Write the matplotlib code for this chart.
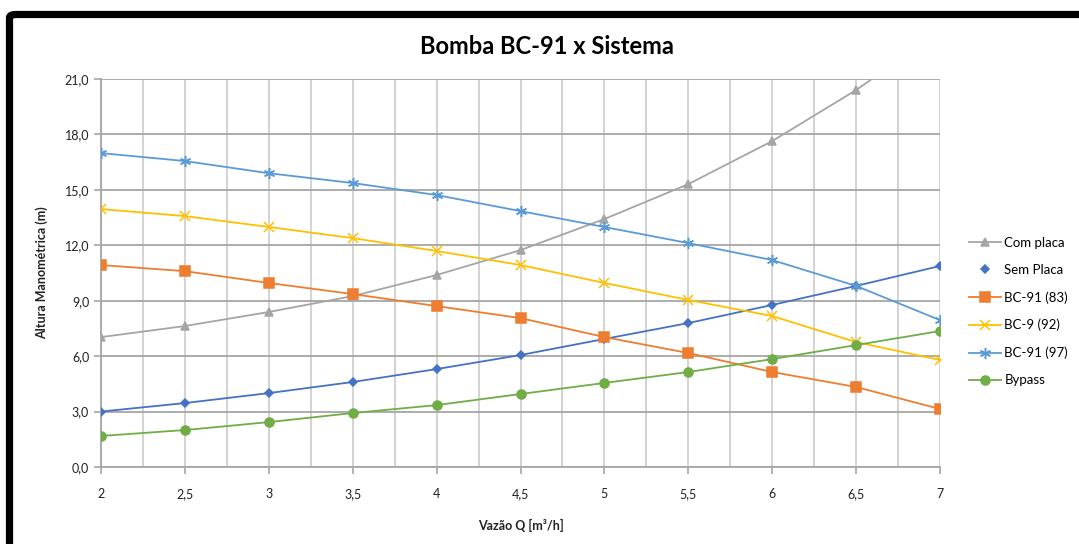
import matplotlib
matplotlib.use("Agg")
import matplotlib.pyplot as plt
from matplotlib.lines import Line2D
from matplotlib.patches import FancyBboxPatch
from matplotlib.ticker import MultipleLocator, FuncFormatter

# dados
vazao = [2, 2.5, 3, 3.5, 4, 4.5, 5, 5.5, 6, 6.5, 7]
com_placa = [7.03, 7.63, 8.39, 9.25, 10.39, 11.74, 13.42, 15.31, 17.64, 20.4, 23.6]
sem_placa = [3.0, 3.46, 4.0, 4.6, 5.3, 6.06, 6.93, 7.79, 8.77, 9.8, 10.88]
bc91_83 = [10.93, 10.6, 9.96, 9.36, 8.71, 8.06, 7.03, 6.17, 5.14, 4.33, 3.14]
bc9_92 = [13.96, 13.58, 12.99, 12.39, 11.69, 10.93, 9.96, 9.04, 8.17, 6.76, 5.79]
bc91_97 = [16.99, 16.56, 15.9, 15.37, 14.72, 13.85, 12.99, 12.12, 11.2, 9.8, 7.95]
bypass = [1.68, 2.0, 2.43, 2.92, 3.35, 3.95, 4.55, 5.14, 5.84, 6.6, 7.36]

plt.rcParams['font.family'] = ['Lato', 'DejaVu Sans']

fig = plt.figure(figsize=(10.79, 5.44), dpi=100)
W, H = 1079, 544
ax = fig.add_axes([101 / W, 1 - 467 / H, (940 - 101) / W, (467 - 79) / H])

# moldura preta (screenshot)
borda = FancyBboxPatch((9.5 / W, -0.2), 1.3, 1 - 14.5 / H + 0.2,
                       boxstyle="round,pad=0,rounding_size=0.006",
                       transform=fig.transFigure, fill=False,
                       edgecolor='black', linewidth=5.2)
fig.patches.append(borda)

series = [
    ("Com placa", com_placa, '#A5A5A5', '^', 6),
    ("Sem Placa", sem_placa, '#4472C4', 'D', 4.5),
    ("BC-91 (83)", bc91_83, '#ED7D31', 's', 6.5),
    ("BC-9 (92)", bc9_92, '#FFC000', 'x', 6.5),
    ("BC-91 (97)", bc91_97, '#5B9BD5', (6, 2, 0), 8),
    ("Bypass", bypass, '#70AD47', 'o', 6.5),
]

for nome, vals, cor, mk, ms in series:
    ax.plot(vazao, vals, color=cor, lw=1.3, marker=mk, markersize=ms,
            markeredgecolor=cor, markerfacecolor=cor, markeredgewidth=1.1,
            clip_on=True, zorder=3)

ax.set_xlim(2, 7)
ax.set_ylim(0, 21)
ax.xaxis.set_major_locator(MultipleLocator(0.5))
ax.xaxis.set_minor_locator(MultipleLocator(0.25))
ax.yaxis.set_major_locator(MultipleLocator(3))
ax.xaxis.set_major_formatter(FuncFormatter(lambda v, p: f"{v:g}".replace('.', ',')))
ax.yaxis.set_major_formatter(FuncFormatter(lambda v, p: f"{v:.1f}".replace('.', ',')))

ax.grid(which='major', axis='y', color='#A6A6A6', lw=1.3)
ax.grid(which='both', axis='x', color='#D0D0D0', lw=1.3)
ax.set_axisbelow(True)
for s in ['top', 'right']:
    ax.spines[s].set_visible(False)
ax.spines['left'].set_color('#A6A6A6')
ax.spines['bottom'].set_color('#A6A6A6')
ax.spines['left'].set_linewidth(1.3)
ax.spines['bottom'].set_linewidth(1.3)
ax.tick_params(axis='both', which='major', length=5, color='#A6A6A6', width=1.2,
               labelsize=9, labelcolor='#222222')
ax.tick_params(axis='x', which='minor', length=0)
ax.tick_params(axis='x', pad=10)

fig.text(547 / W, 1 - 47 / H, "Bomba BC-91 x Sistema", fontsize=17,
         fontweight='bold', ha='center', va='center')
ax.set_xlabel("Vazão Q [m³/h]", fontsize=9, fontweight='bold', labelpad=14, color='#222222')
ax.set_ylabel("Altura Manométrica (m)", fontsize=9, fontweight='bold', labelpad=12, color='#222222')

handles = []
for nome, vals, cor, mk, ms in series:
    ls = 'none' if nome == "Sem Placa" else '-'
    handles.append(Line2D([], [], color=cor, lw=1.3, ls=ls, marker=mk,
                          markersize=ms, markeredgecolor=cor, markerfacecolor=cor,
                          markeredgewidth=1.1))
fig.legend(handles, [s[0] for s in series], loc='upper left',
           bbox_to_anchor=(957 / W, 1 - 225 / H), frameon=False, fontsize=9.5,
           labelspacing=1.15, handlelength=2.4, handletextpad=0.3)

fig.savefig("out.png", dpi=100)
